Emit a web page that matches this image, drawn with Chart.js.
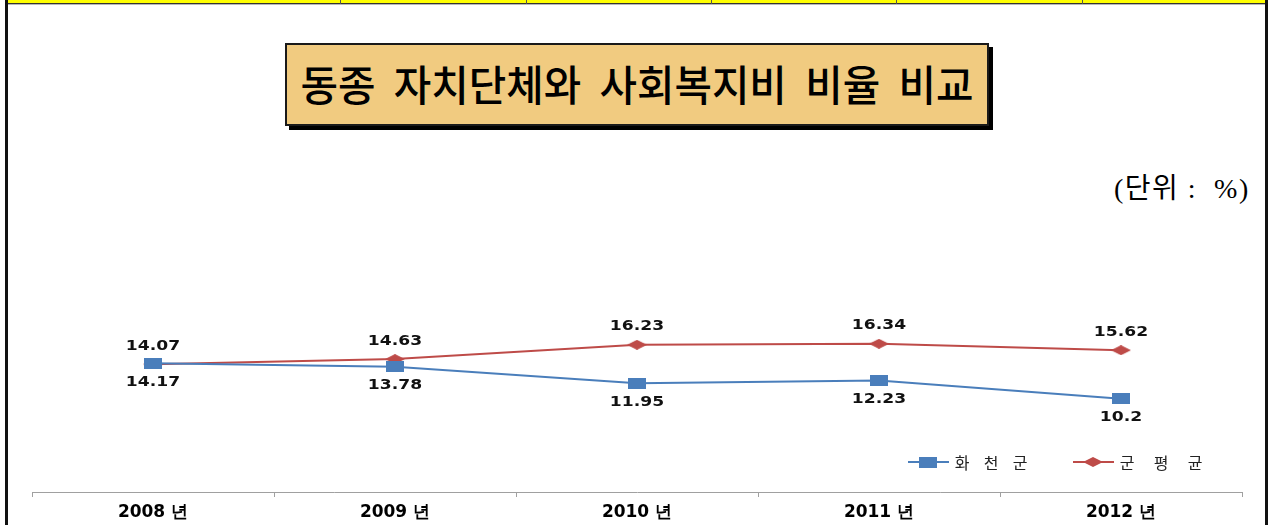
<!DOCTYPE html>
<html>
<head>
<meta charset="utf-8">
<script src="https://cdn.jsdelivr.net/npm/chart.js@4.4.1/dist/chart.umd.min.js"></script>
<style>
  body { margin: 0; background: #fff; }
  #page { position: relative; width: 1270px; height: 525px; overflow: hidden; background: #fff; }
  .strip { position: absolute; left: 7px; top: 0; width: 1258px; height: 3px; background: #ffff00; border-bottom: 1px solid #333; }
  .strip-gray { position: absolute; left: 7px; top: 4px; width: 1258px; height: 1px; background: #b8b8b8; }
  .cell { position: absolute; top: 0; width: 1px; height: 4px; background: #555; }
  .edge { position: absolute; top: 0; width: 3px; height: 525px; background: #111; }
  .title-box {
    position: absolute; left: 285px; top: 43px; width: 700px; height: 79px;
    background: #f1cb80; border: 2px solid #1a1a1a; box-shadow: 4px 4px 0 #000;
    display: flex; align-items: center; justify-content: center;
  }
  .title-box span {
    font-family: "Noto Sans CJK KR", sans-serif; font-size: 42px; font-weight: 500;
    color: #000; white-space: pre; display: inline-block; transform: scaleX(0.97);
    margin-top: -4px;
  }
  .unit {
    position: absolute; left: 1114px; top: 166px; white-space: pre; letter-spacing: 1.5px;
    font-family: "Liberation Serif", "Noto Sans CJK KR", serif; font-size: 28px; color: #000;
  }
  #wrap { position: absolute; left: 0; top: 300px; width: 1270px; height: 225px; }
</style>
</head>
<body>
<div id="page">
  <div class="strip"></div>
  <div class="strip-gray"></div>
  <div class="cell" style="left:340px"></div>
  <div class="cell" style="left:526px"></div>
  <div class="cell" style="left:711px"></div>
  <div class="cell" style="left:896px"></div>
  <div class="cell" style="left:1082px"></div>
  <div class="edge" style="left:5px"></div>
  <div class="edge" style="left:1265px"></div>
  <div class="title-box"><span>동종  자치단체와  사회복지비  비율  비교</span></div>
  <div class="unit">(단위 :  %)</div>
  <div id="wrap"><canvas id="chart"></canvas></div>
</div>
<script>
const years = ['2008 년', '2009 년', '2010 년', '2011 년', '2012 년'];
const hwacheon = [14.17, 13.78, 11.95, 12.23, 10.2];
const countyAvg = [14.07, 14.63, 16.23, 16.34, 15.62];
const seriesNames = ['화천군', '군평균'];

const BLUE = '#4a7ebb';
const RED = '#be4b48';

function markerCanvas(kind, color) {
  const c = document.createElement('canvas');
  const w = kind === 'rect' ? 18 : 20;
  const h = kind === 'rect' ? 11 : 10;
  c.width = w; c.height = h;
  const g = c.getContext('2d');
  g.fillStyle = color;
  if (kind === 'rect') {
    g.fillRect(0, 0, w, h);
  } else {
    g.beginPath();
    g.moveTo(w / 2, 0); g.lineTo(w, h / 2); g.lineTo(w / 2, h); g.lineTo(0, h / 2);
    g.closePath(); g.fill();
  }
  return c;
}
const blueMark = markerCanvas('rect', BLUE);
const redMark = markerCanvas('diamond', RED);

// value labels: red above, blue below
const valueLabels = {
  id: 'valueLabels',
  afterDatasetsDraw(chart) {
    const ctx = chart.ctx;
    ctx.save();
    ctx.font = 'bold 13px "DejaVu Sans", sans-serif';
    ctx.fillStyle = '#111';
    ctx.textAlign = 'center';
    ctx.textBaseline = 'middle';
    chart.data.datasets.forEach((ds, i) => {
      const meta = chart.getDatasetMeta(i);
      meta.data.forEach((pt, j) => {
        const dy = i === 0 ? 19 : -18;
        ctx.save();
        ctx.translate(pt.x, pt.y + dy);
        ctx.scale(1.32, 1.05);
        ctx.fillText(String(ds.data[j]), 0, 0);
        ctx.restore();
      });
    });
    ctx.restore();
  }
};

// legend inside the plot, bottom right
const insideLegend = {
  id: 'insideLegend',
  afterDraw(chart) {
    const ctx = chart.ctx;
    const area = chart.chartArea;
    const y = area.bottom - 30;
    const items = [
      { x: area.right - 334, color: BLUE, img: blueMark, step: 29 },
      { x: area.right - 169, color: RED, img: redMark, step: 34 }
    ];
    ctx.save();
    items.forEach((it, i) => {
      ctx.strokeStyle = it.color;
      ctx.lineWidth = 2;
      ctx.beginPath();
      ctx.moveTo(it.x, y); ctx.lineTo(it.x + 41, y);
      ctx.stroke();
      ctx.drawImage(it.img, it.x + 20 - it.img.width / 2, y - it.img.height / 2);
      ctx.font = '16px "Noto Sans CJK KR", sans-serif';
      ctx.fillStyle = '#222';
      ctx.textAlign = 'center';
      ctx.textBaseline = 'middle';
      Array.from(seriesNames[i]).forEach((ch, k) => {
        ctx.fillText(ch, it.x + 54 + k * it.step, y + 1);
      });
    });
    ctx.restore();
  }
};

new Chart(document.getElementById('chart'), {
  type: 'line',
  data: {
    labels: years,
    datasets: [
      {
        label: seriesNames[0], data: hwacheon,
        borderColor: BLUE, backgroundColor: BLUE, borderWidth: 2,
        pointStyle: blueMark, pointRadius: 9, tension: 0
      },
      {
        label: seriesNames[1], data: countyAvg,
        borderColor: RED, backgroundColor: RED, borderWidth: 2,
        pointStyle: redMark, pointRadius: 9, tension: 0
      }
    ]
  },
  options: {
    responsive: true,
    maintainAspectRatio: false,
    animation: false,
    layout: { padding: { left: 32, right: 28, top: 8, bottom: 0 } },
    plugins: {
      legend: { display: false },
      tooltip: { enabled: false }
    },
    scales: {
      x: {
        offset: true,
        grid: { display: true, drawOnChartArea: false, drawTicks: true, tickLength: 5, color: '#a0a0a0', offset: true },
        border: { display: true, color: '#a0a0a0', width: 1 },
        ticks: { color: '#000', padding: 5, font: { family: 'DejaVu Sans', weight: 'bold', size: 17 } },
        afterFit(scale) { scale.height = 33; }
      },
      y: {
        display: false,
        min: -0.2,
        max: 20
      }
    }
  },
  plugins: [valueLabels, insideLegend]
});
</script>
</body>
</html>
